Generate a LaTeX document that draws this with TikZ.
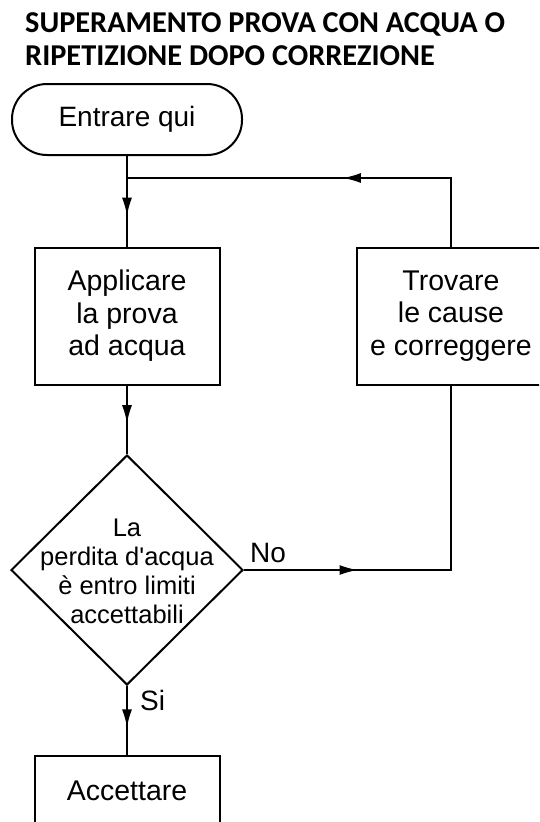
\documentclass[tikz,border=0pt]{standalone}
\usepackage{fontspec}
\newfontfamily\flowfont{Liberation Sans}
\newfontfamily\titlefont{Carlito}
\usetikzlibrary{shapes.geometric, decorations.markings, arrows.meta, positioning, calc}

\tikzset{
  flowbox/.style={draw, line width=2pt, minimum width=185pt, minimum height=137pt,
    inner sep=0pt, align=center, font=\flowfont\fontsize{28.5}{32.5}\selectfont},
  flowtext/.style={align=center, inner sep=0pt, font=\flowfont\fontsize{25.5}{29}\selectfont},
  flowlabel/.style={inner sep=0pt, font=\flowfont\fontsize{28}{30}\selectfont},
  titletext/.style={inner sep=0pt, font=\titlefont\bfseries\fontsize{30.3}{33}\selectfont},
  flow/.style={line width=1.6pt},
  midarrow/.style={postaction={decorate, decoration={markings,
    mark=at position #1 with {\arrow{Latex[length=18pt, width=10pt]}}}}},
  midarrow/.default=0.5
}

\begin{document}
\begin{tikzpicture}[x=1pt, y=-1pt]

    \clip (0, 0) rectangle (539, 822);

    % Title
    \node (title1) [titletext, anchor=base west] at (25, 32) {SUPERAMENTO PROVA CON ACQUA O};
    \node (title2) [titletext, anchor=base west] at (25, 65) {RIPETIZIONE DOPO CORREZIONE};

    % Steps
    \node (start) [draw, line width=2pt, rounded corners=35pt, minimum width=230pt,
      minimum height=71pt, font=\flowfont\fontsize{28}{32}\selectfont] at (127, 119.5) {Entrare qui};
    \coordinate (join) at (127, 178);
    \node (apply) [flowbox] at (127, 316) {Applicare\\la prova\\ad acqua};
    \node (fix) [flowbox, minimum width=188pt] at (451, 316) {Trovare\\le cause\\e correggere};
    \node (check) [draw, diamond, line width=2pt, minimum width=232pt, minimum height=230pt,
      inner sep=0pt] at (127, 570) {};
    \node (checktext) [flowtext] at (127, 571) {La\\perdita d'acqua\\è entro limiti\\accettabili};
    \node (accept) [flowbox, minimum width=185pt, minimum height=70pt] at (127, 791) {Accettare};

    % Connectors
    \draw [flow] (start.south) -- (join);
    \draw [flow, midarrow=0.55] (join) -- (apply.north);
    \draw [flow, midarrow=0.45] (fix.north) |- (join);
    \draw [flow, midarrow=0.55] (apply.south) -- (check.north);
    \draw [flow, midarrow=0.29] (check.east) -| (fix.south);
    \draw [flow, midarrow=0.6] (check.south) -- (accept.north);

    % Labels
    \node (no) [flowlabel, anchor=base west] at (250, 562) {No};
    \node (yes) [flowlabel, anchor=base west] at (140, 710) {Si};

\end{tikzpicture}
\end{document}
